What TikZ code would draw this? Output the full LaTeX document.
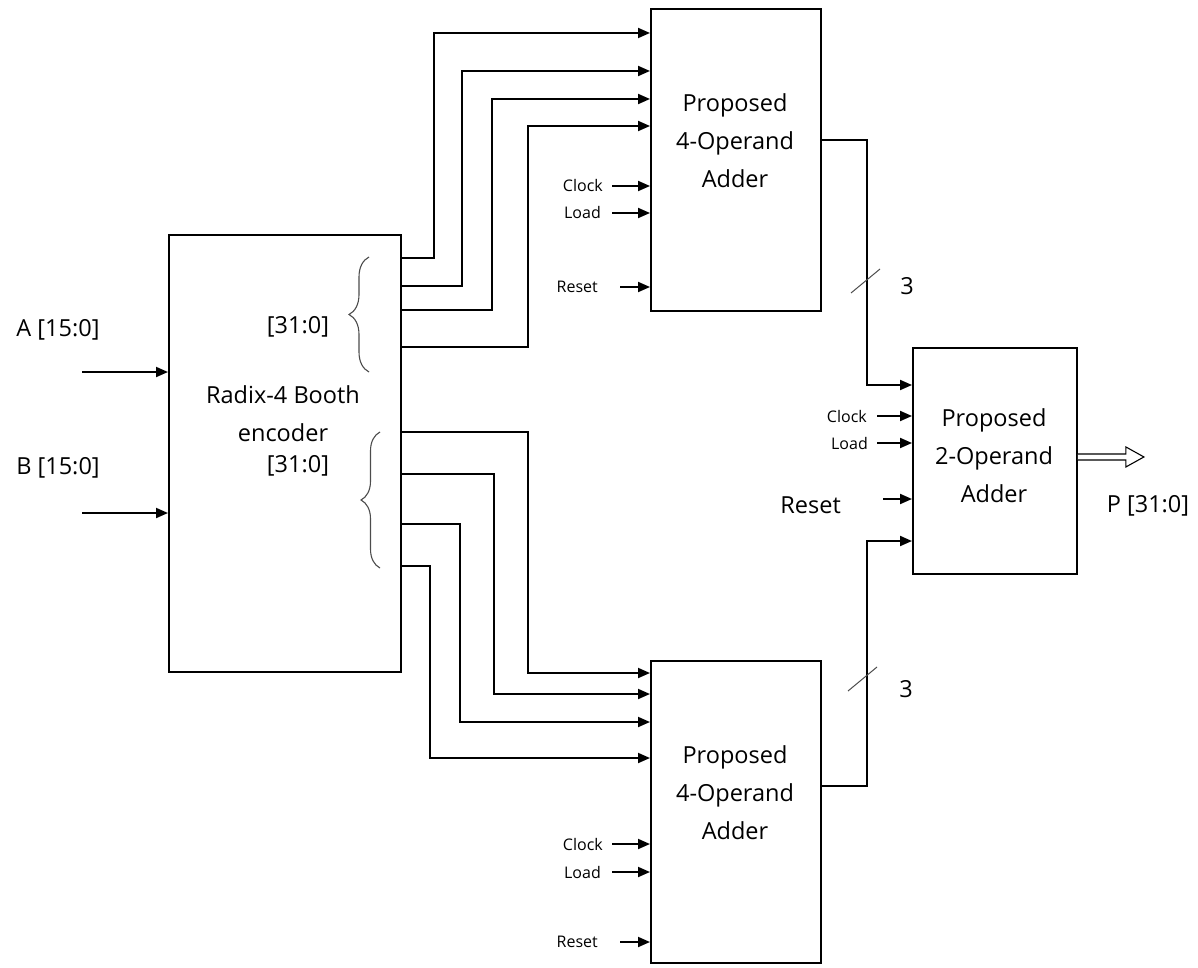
\documentclass[tikz,border=0pt]{standalone}
\usepackage{fontspec}
\setmainfont{Open Sans}
\usetikzlibrary{arrows.meta,calc,decorations.pathreplacing}
\begin{document}
\begin{tikzpicture}[x=1pt,y=-1pt,
  blk/.style={draw, line width=1.9pt, inner sep=0pt, anchor=north west},
  wire/.style={line width=1.9pt, -{Triangle[length=12pt,width=10pt]}},
  big/.style={font=\fontsize{23.5}{38}\selectfont, align=center, inner sep=0pt},
  sml/.style={font=\fontsize{16}{19}\selectfont, inner sep=0pt, anchor=east},
  brc/.style={decorate, line width=1.1pt, draw=black!70},
  slash/.style={line width=1pt, draw=black!70}]
\useasboundingbox (0,0) rectangle (1198,968);

% blocks
\node[blk, minimum width=232pt, minimum height=437pt] (booth) at (168,234) {};
\node[blk, minimum width=170pt, minimum height=302pt] (top) at (650,8) {};
\node[blk, minimum width=170pt, minimum height=302pt] (bot) at (650,660) {};
\node[blk, minimum width=164pt, minimum height=226pt] (twoop) at (912,347) {};

% block texts
\node[big] (boothtxt) at (283,414) {Radix-4 Booth\\encoder};
\node[big] (toptxt) at (735,141) {Proposed\\4-Operand\\Adder};
\node[big] (bottxt) at (735,793) {Proposed\\4-Operand\\Adder};
\node[big] (twotxt) at (994,456) {Proposed\\2-Operand\\Adder};

% inputs A, B
\node[big] (alab) at (58,330) {A [15:0]};
\node[big] (blab) at (58,468) {B [15:0]};
\coordinate (ain) at (82,372);
\coordinate (bin) at (82,513);
\draw[wire] (ain) -- (ain -| booth.west);
\draw[wire] (bin) -- (bin -| booth.west);

% buses
\node[big] (bus1) at (298,327) {[31:0]};
\node[big] (bus2) at (298,466) {[31:0]};
\draw[brc, decoration={brace, amplitude=20pt}] (369,372) -- (369,257);
\draw[brc, decoration={brace, amplitude=19pt}] (380,568) -- (380,432);

% booth -> top adder
\draw[wire] ([yshift=-24pt]booth.north east) -- ++(32,0) |- ([yshift=-25pt]top.north west);
\draw[wire] ([yshift=-52pt]booth.north east) -- ++(60,0) |- ([yshift=-63pt]top.north west);
\draw[wire] ([yshift=-76pt]booth.north east) -- ++(90,0) |- ([yshift=-91pt]top.north west);
\draw[wire] ([yshift=-113pt]booth.north east) -- ++(126,0) |- ([yshift=-118pt]top.north west);

% booth -> bottom adder
\draw[wire] ([yshift=-198pt]booth.north east) -- ++(126,0) |- ([yshift=-13pt]bot.north west);
\draw[wire] ([yshift=-240pt]booth.north east) -- ++(92,0) |- ([yshift=-34pt]bot.north west);
\draw[wire] ([yshift=-290pt]booth.north east) -- ++(58,0) |- ([yshift=-62pt]bot.north west);
\draw[wire] ([yshift=-332pt]booth.north east) -- ++(28,0) |- ([yshift=-98pt]bot.north west);

% control inputs, top adder
\node[sml] (clk1) at (603,186) {Clock};
\node[sml] (ld1) at (601,213) {Load};
\node[sml] (rst1) at (598,287) {Reset};
\draw[wire] ([xshift=9pt]clk1.east) -- (clk1.east -| top.west);
\draw[wire] ([xshift=11pt]ld1.east) -- (ld1.east -| top.west);
\draw[wire] ([xshift=22pt]rst1.east) -- (rst1.east -| top.west);

% control inputs, bottom adder
\node[sml] (clk2) at (603,844) {Clock};
\node[sml] (ld2) at (601,872) {Load};
\node[sml] (rst2) at (598,942) {Reset};
\draw[wire] ([xshift=9pt]clk2.east) -- (clk2.east -| bot.west);
\draw[wire] ([xshift=11pt]ld2.east) -- (ld2.east -| bot.west);
\draw[wire] ([xshift=22pt]rst2.east) -- (rst2.east -| bot.west);

% control inputs, 2-operand adder
\node[sml] (clk3) at (867,416) {Clock};
\node[sml] (ld3) at (868,443) {Load};
\node[big, anchor=east] (rst3) at (841,505) {Reset};
\draw[wire] ([xshift=10pt]clk3.east) -- (clk3.east -| twoop.west);
\draw[wire] ([xshift=9pt]ld3.east) -- (ld3.east -| twoop.west);
\coordinate (rst3s) at (883,499);
\draw[wire] (rst3s) -- (rst3s -| twoop.west);

% adder outputs -> 2-operand adder
\draw[wire] ([yshift=-132pt]top.north east) -- ++(45,0) |- ([yshift=-38pt]twoop.north west);
\draw[wire] ([yshift=-126pt]bot.north east) -- ++(45,0) |- ([yshift=-194pt]twoop.north west);
\draw[slash] (851,293) -- (880,269);
\draw[slash] (848,691) -- (877,667);
\node[big] (w1) at (907,286) {3};
\node[big] (w2) at (906,689) {3};

% output
\draw[line width=1.1pt, fill=white] ([yshift=7pt]twoop.east) -- ++(48,0) -- ++(0,-7) -- ++(18,10) -- ++(-18,10) -- ++(0,-7) -- ++(-48,0);
\node[big] (plab) at (1148,506) {P [31:0]};
\end{tikzpicture}
\end{document}
